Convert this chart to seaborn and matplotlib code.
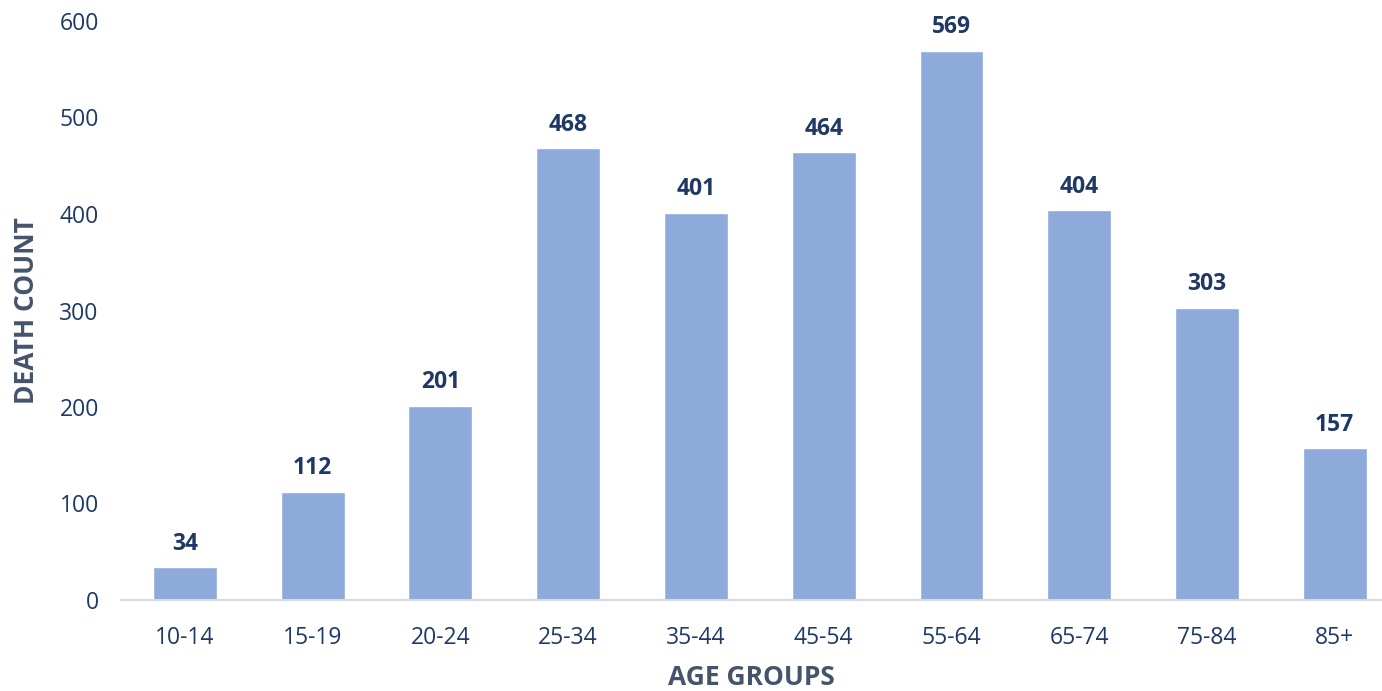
import matplotlib
matplotlib.use("Agg")
import matplotlib.pyplot as plt
import seaborn as sns
import pandas as pd

age_groups = ["10-14", "15-19", "20-24", "25-34", "35-44", "45-54", "55-64", "65-74", "75-84", "85+"]
death_counts = [34, 112, 201, 468, 401, 464, 569, 404, 303, 157]
y_ticks = [0, 100, 200, 300, 400, 500, 600]

sns.set_theme(style="white")
plt.rcParams["font.family"] = ["Open Sans", "DejaVu Sans"]

bar_color = "#8eaadb"
navy = "#1f3864"
label_gray = "#44546a"

df = pd.DataFrame({"age": age_groups, "deaths": death_counts})

fig = plt.figure(figsize=(13.82, 6.91), dpi=100)
ax = fig.add_axes([121 / 1382, 91 / 691, 1 - 121 / 1382, (600 - 21) / 691])

sns.barplot(data=df, x="age", y="deaths", color=bar_color, width=0.5,
            saturation=1, ax=ax)

for i, v in enumerate(death_counts):
    ax.text(i, v + 12, str(v), ha="center", va="bottom", fontsize=16.5,
            fontweight="bold", color=navy)

ax.set_xlim(-0.5, 9.37)
ax.set_ylim(0, 600)
ax.set_yticks(y_ticks)
ax.set_yticklabels([str(t) for t in y_ticks], fontsize=16.5, color=navy)
ax.tick_params(axis="x", labelsize=16.5, labelcolor=navy, length=0, pad=19)
ax.tick_params(axis="y", length=0, pad=16)

ax.set_xlabel("AGE GROUPS", fontsize=19, fontweight="bold", color=label_gray, labelpad=10)
ax.set_ylabel("DEATH COUNT", fontsize=19, fontweight="bold", color=label_gray, labelpad=14)

for side in ["top", "right", "left"]:
    ax.spines[side].set_visible(False)
ax.spines["bottom"].set_color("#d9d9d9")
ax.spines["bottom"].set_linewidth(1.5)

fig.savefig("out.png", dpi=100)
